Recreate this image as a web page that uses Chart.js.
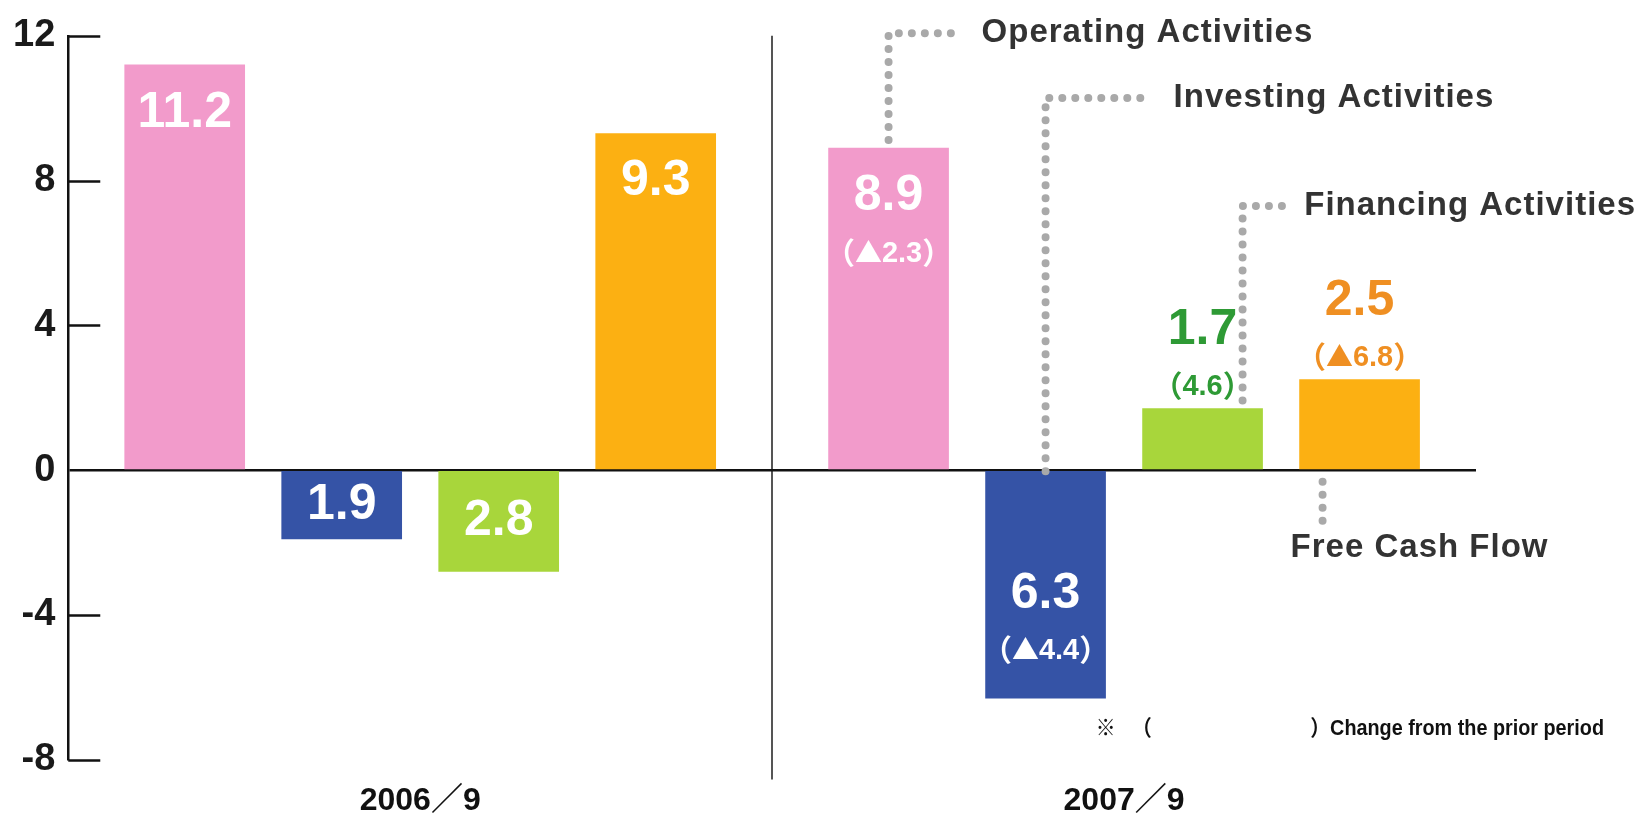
<!DOCTYPE html>
<html>
<head>
<meta charset="utf-8">
<title>Cash Flows</title>
<script src="https://cdn.jsdelivr.net/npm/chart.js@4.4.1/dist/chart.umd.min.js"></script>
<style>
    html, body { margin: 0; padding: 0; background: #fff; }
    #wrap { width: 1644px; height: 822px; position: relative; }
</style>
</head>
<body>
<div id="wrap"><canvas id="cf-chart"></canvas></div>
<script>
// --- Data ---
const periods = ['2006／9', '2007／9'];
const seriesNames = ['Operating Activities', 'Investing Activities', 'Financing Activities', 'Free Cash Flow'];
const operating = [11.2, 8.9];
const investing = [-1.9, -6.3];
const financing = [-2.8, 1.7];
const freeCashFlow = [9.3, 2.5];
// change from the prior period (2007/9 only), one per series
const changeFromPrior = [-2.3, -4.4, 4.6, -6.8];
const yTicks = [-8, -4, 0, 4, 8, 12];
const footnote = '※   （　　　　　　　　）Change from the prior period';

document.addEventListener('DOMContentLoaded', () => {
    const barColors = ['#f29bcb', '#3553a6', '#a8d63b', '#fcb012'];
    const outsideTextColors = ['#e0509a', '#3553a6', '#2e9a35', '#ef8f22'];
    const FONT = '"Liberation Sans", Arial, "Noto Sans CJK JP", sans-serif';
    const CJK_FONT = '"Noto Sans CJK JP", "Liberation Sans", sans-serif';

    // Draw a string, optionally with letter spacing / horizontal squeeze
    function drawText(ctx, text, x, y, font, color, align, spacing, sx) {
        ctx.save();
        ctx.font = font;
        ctx.fillStyle = color;
        ctx.textAlign = align || 'center';
        ctx.textBaseline = 'middle';
        ctx.letterSpacing = (spacing || 0) + 'px';
        if (sx && sx !== 1) {
            ctx.translate(x, y);
            ctx.scale(sx, 1);
            ctx.fillText(text, 0, 0);
        } else {
            ctx.fillText(text, x, y);
        }
        ctx.restore();
    }

    function textWidth(ctx, text, font, spacing) {
        ctx.save();
        ctx.font = font;
        ctx.letterSpacing = (spacing || 0) + 'px';
        const w = ctx.measureText(text).width;
        ctx.restore();
        return w;
    }

    // Several text pieces in different fonts, centred as a whole
    function drawPieces(ctx, pieces, cx, y, color) {
        const widths = pieces.map(p => textWidth(ctx, p.text, p.font));
        let x = cx - widths.reduce((a, b) => a + b, 0) / 2;
        pieces.forEach((p, i) => {
            drawText(ctx, p.text, x, y + (p.dy || 0), p.font, color, 'left');
            x += widths[i];
        });
    }

    function changePieces(change) {
        const paren = 'bold 30px ' + CJK_FONT;
        const num = 'bold 29px ' + FONT;
        const pieces = [{ text: '（', font: paren, dy: -1 }];
        if (change < 0) pieces.push({ text: '▲', font: 'bold 27px ' + CJK_FONT, dy: -1 });
        pieces.push({ text: Math.abs(change).toFixed(1), font: num });
        pieces.push({ text: '）', font: paren, dy: -1 });
        return pieces;
    }

    function dottedPath(ctx, points) {
        ctx.save();
        ctx.strokeStyle = '#a9a9a9';
        ctx.lineWidth = 8;
        ctx.lineCap = 'round';
        ctx.setLineDash([0, 13]);
        ctx.beginPath();
        ctx.moveTo(points[0][0], points[0][1]);
        for (let i = 1; i < points.length; i++) ctx.lineTo(points[i][0], points[i][1]);
        ctx.stroke();
        ctx.restore();
    }

    // Inward tick marks on the y axis
    const yTickMarks = {
        id: 'yTickMarks',
        afterDraw(chart) {
            const { ctx, chartArea, scales: { y } } = chart;
            ctx.save();
            ctx.strokeStyle = '#111';
            ctx.lineWidth = 2.5;
            y.ticks.forEach(t => {
                if (t.value === 0) return;
                const py = Math.round(y.getPixelForValue(t.value)) + 0.5;
                ctx.beginPath();
                ctx.moveTo(chartArea.left, py);
                ctx.lineTo(chartArea.left + 32, py);
                ctx.stroke();
            });
            ctx.restore();
        }
    };

    // Value labels and change labels
    const valueLabels = {
        id: 'valueLabels',
        afterDatasetsDraw(chart) {
            const ctx = chart.ctx;
            const mainFont = 'bold 50px ' + FONT;
            chart.data.datasets.forEach((ds, di) => {
                chart.getDatasetMeta(di).data.forEach((bar, i) => {
                    const v = ds.data[i];
                    const main = Math.abs(v).toFixed(1);
                    const change = i === 1 ? changeFromPrior[di] : null;
                    const sub = change === null ? null : changePieces(change);
                    const h = Math.abs(bar.base - bar.y);
                    if (v >= 0) {
                        if (sub && h < 150) {
                            const c = outsideTextColors[di];
                            drawText(ctx, main, bar.x, bar.y - 78, mainFont, c);
                            drawPieces(ctx, sub, bar.x, bar.y - 22, c);
                        } else {
                            drawText(ctx, main, bar.x, bar.y + 48, mainFont, '#fff');
                            if (sub) drawPieces(ctx, sub, bar.x, bar.y + 106, '#fff');
                        }
                    } else if (sub) {
                        drawText(ctx, main, bar.x, bar.y - 104, mainFont, '#fff');
                        drawPieces(ctx, sub, bar.x, bar.y - 47, '#fff');
                    } else {
                        drawText(ctx, main, bar.x, (bar.y + bar.base) / 2, mainFont, '#fff');
                    }
                });
            });
        }
    };

    // Dotted callouts naming each series, hooked to the 2007/9 bars
    const callouts = {
        id: 'callouts',
        afterDraw(chart) {
            const { ctx, scales: { y } } = chart;
            const font = 'bold 33px ' + FONT;
            const color = '#333';
            const spacing = 1;
            const layout = [
                { dx: 0,  start: b => b.y - 8, at: 12.07, gap: 93 },
                { dx: 0,  start: b => b.base,  at: 10.28, gap: 128 },
                { dx: 40, start: b => b.y - 8, at: 7.3,   gap: 62 }
            ];
            layout.forEach((l, si) => {
                const bar = chart.getDatasetMeta(si).data[1];
                const lx = bar.x + l.dx;
                const ly = y.getPixelForValue(l.at);
                const w = textWidth(ctx, seriesNames[si], font, spacing);
                const tx = Math.min(lx + l.gap, chart.width - 8 - w);
                dottedPath(ctx, [[lx, l.start(bar)], [lx, ly], [tx - 22, ly]]);
                drawText(ctx, seriesNames[si], tx, ly, font, color, 'left', spacing);
            });
            // Free cash flow points down from the zero line
            const fcf = chart.getDatasetMeta(3).data[1];
            const fx = fcf.x - 37;
            dottedPath(ctx, [[fx, fcf.base + 13], [fx, y.getPixelForValue(-1.46)]]);
            drawText(ctx, seriesNames[3], fx - 32, y.getPixelForValue(-2.15), font, color, 'left', spacing);

            // Footnote
            drawText(ctx, footnote, chart.width - 40, y.getPixelForValue(-7.16),
                'bold 22px ' + FONT, '#111', 'right', 0, 0.9);
        }
    };

    const ctx = document.getElementById('cf-chart').getContext('2d');
    const seriesData = [operating, investing, financing, freeCashFlow];

    new Chart(ctx, {
        type: 'bar',
        data: {
            labels: periods,
            datasets: seriesData.map((d, i) => ({
                label: seriesNames[i],
                data: d,
                backgroundColor: barColors[i],
                borderWidth: 0,
                barThickness: 157,
                maxBarThickness: 120
            }))
        },
        options: {
            responsive: true,
            maintainAspectRatio: false,
            animation: false,
            layout: { padding: { left: 0, right: 168, top: 34, bottom: 0 } },
            scales: {
                x: {
                    offset: true,
                    border: { display: false },
                    grid: {
                        offset: true,
                        drawTicks: true,
                        tickLength: 20,
                        lineWidth: 2,
                        color: c => c.index === 1 ? '#555' : 'transparent'
                    },
                    ticks: {
                        padding: 2,
                        color: '#111',
                        font: { family: FONT, size: 32, weight: 'bold' }
                    }
                },
                y: {
                    min: -8,
                    max: 12,
                    afterBuildTicks: s => { s.ticks = yTicks.map(v => ({ value: v })); },
                    border: { display: true, color: '#111', width: 2.5 },
                    grid: {
                        drawTicks: false,
                        lineWidth: 2.5,
                        color: c => c.tick && c.tick.value === 0 ? '#111' : 'transparent'
                    },
                    ticks: {
                        padding: 13,
                        color: '#1a1a1a',
                        font: { family: FONT, size: 38, weight: 'bold' }
                    }
                }
            },
            plugins: {
                legend: { display: false },
                tooltip: { enabled: false }
            }
        },
        plugins: [yTickMarks, valueLabels, callouts]
    });
});
</script>
</body>
</html>
